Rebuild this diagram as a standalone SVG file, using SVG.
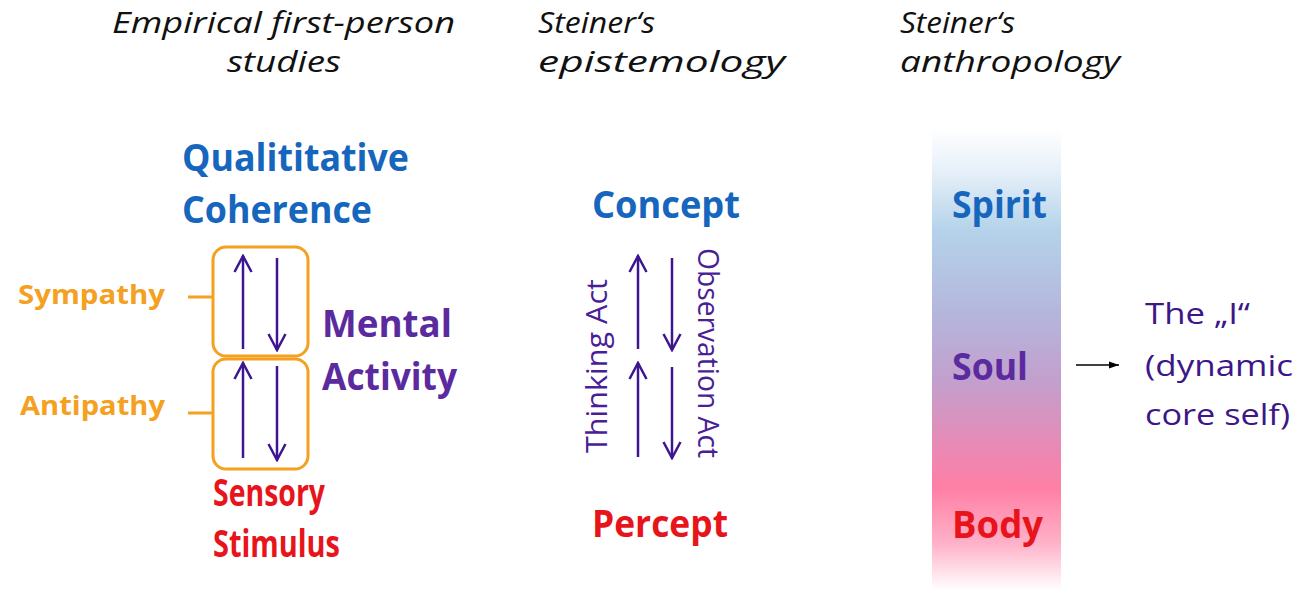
<svg xmlns="http://www.w3.org/2000/svg" width="1293" height="600" viewBox="0 0 1293 600">
<defs>
<style>
text{font-family:"Open Sans","Noto Sans","Liberation Sans",sans-serif}
.title{font-size:30px;font-style:italic;fill:#111}
.big{font-size:37px;font-weight:bold}
.blue{fill:#1666bd}
.red{fill:#e8141c}
.purple{fill:#5b2a9e}
.orange{fill:#f4a021}
.mid{font-size:27px;font-weight:bold}
.act{font-size:29px;fill:#4a1e96}
.self{font-size:30px;fill:#3d1688}
.box{fill:none;stroke:#f4a021;stroke-width:3}
.dash{stroke:#f4a021;stroke-width:3}
.arr{stroke:#3e1590;stroke-width:2.5;fill:none;marker-end:url(#head)}
</style>
<marker id="head" markerUnits="userSpaceOnUse" viewBox="0 0 20 20" refX="18" refY="10" markerWidth="20" markerHeight="20" orient="auto">
<path d="M2,1.5 L18,10 L2,18.5" fill="none" stroke="#3e1590" stroke-width="2.5"/>
</marker>
<marker id="blk" markerUnits="userSpaceOnUse" viewBox="0 0 10 10" refX="10" refY="5" markerWidth="10" markerHeight="10" orient="auto">
<path d="M0,1.5 L10,5 L0,8.5 Z" fill="#000"/>
</marker>
<linearGradient id="bar" x1="0" y1="0" x2="0" y2="1">
<stop offset="0" stop-color="#ffffff"/>
<stop offset="0.1" stop-color="#e4eff8"/>
<stop offset="0.22" stop-color="#b5d3ea"/>
<stop offset="0.4" stop-color="#b4b6dc"/>
<stop offset="0.55" stop-color="#c39fcd"/>
<stop offset="0.7" stop-color="#eb88b3"/>
<stop offset="0.78" stop-color="#ff7fa6"/>
<stop offset="0.9" stop-color="#ffb2c9"/>
<stop offset="1" stop-color="#ffffff"/>
</linearGradient>
</defs>
<rect width="1293" height="600" fill="#fff"/>

<g id="titles">
<text class="title" x="112" y="33" textLength="343" lengthAdjust="spacingAndGlyphs">Empirical first-person</text>
<text class="title" x="227" y="72" textLength="114" lengthAdjust="spacingAndGlyphs">studies</text>
<text class="title" x="538" y="33" textLength="117" lengthAdjust="spacingAndGlyphs">Steiner‘s</text>
<text class="title" x="538" y="72" textLength="247" lengthAdjust="spacingAndGlyphs">epistemology</text>
<text class="title" x="900" y="33" textLength="115" lengthAdjust="spacingAndGlyphs">Steiner‘s</text>
<text class="title" x="900" y="72" textLength="220" lengthAdjust="spacingAndGlyphs">anthropology</text>
</g>

<g id="coherence">
<text class="big blue" x="182" y="171" textLength="227" lengthAdjust="spacingAndGlyphs">Qualititative</text>
<text class="big blue" x="182" y="223" textLength="190" lengthAdjust="spacingAndGlyphs">Coherence</text>
</g>
<g id="sympathy">
<text class="mid orange" x="18" y="304" textLength="147" lengthAdjust="spacingAndGlyphs">Sympathy</text>
<line class="dash" x1="188" y1="297" x2="213" y2="297"/>
<rect class="box" x="213" y="247" width="95" height="109" rx="13"/>
</g>
<g id="antipathy">
<text class="mid orange" x="20" y="415" textLength="145" lengthAdjust="spacingAndGlyphs">Antipathy</text>
<line class="dash" x1="188" y1="413" x2="213" y2="413"/>
<rect class="box" x="213" y="359" width="95" height="110" rx="13"/>
</g>
<g id="mental">
<text class="big purple" x="322" y="337" textLength="130" lengthAdjust="spacingAndGlyphs">Mental</text>
<text class="big purple" x="322" y="390" textLength="135" lengthAdjust="spacingAndGlyphs">Activity</text>
</g>
<g id="sensory">
<text class="big red" x="213" y="506" textLength="112" lengthAdjust="spacingAndGlyphs">Sensory</text>
<text class="big red" x="213" y="557" textLength="127" lengthAdjust="spacingAndGlyphs">Stimulus</text>
</g>

<g id="concept"><text class="big blue" x="592" y="218" textLength="148" lengthAdjust="spacingAndGlyphs">Concept</text></g>
<g id="percept"><text class="big red" x="592" y="537" textLength="136" lengthAdjust="spacingAndGlyphs">Percept</text></g>
<g id="thinking"><text class="act" transform="translate(607,453) rotate(-90)" x="0" y="0" textLength="174" lengthAdjust="spacingAndGlyphs">Thinking Act</text></g>
<g id="observation"><text class="act" transform="translate(698,248) rotate(90)" x="0" y="0" textLength="210" lengthAdjust="spacingAndGlyphs">Observation Act</text></g>

<g id="bar-col">
<rect x="932" y="128" width="129" height="462" fill="url(#bar)"/>
<text class="big blue" x="952" y="218" textLength="95" lengthAdjust="spacingAndGlyphs">Spirit</text>
</g>
<g id="soul"><text class="big purple" x="952" y="380" textLength="76" lengthAdjust="spacingAndGlyphs">Soul</text></g>
<g id="body"><text class="big red" x="952" y="538" textLength="91" lengthAdjust="spacingAndGlyphs">Body</text></g>
<g id="self">
<text class="self" x="1145" y="324" textLength="105" lengthAdjust="spacingAndGlyphs">The „I“</text>
<text class="self" x="1145" y="376" textLength="148" lengthAdjust="spacingAndGlyphs">(dynamic</text>
<text class="self" x="1145" y="425" textLength="145" lengthAdjust="spacingAndGlyphs">core self)</text>
</g>

<g id="connectors">
<line class="arr" x1="243" y1="349" x2="243" y2="256"/>
<line class="arr" x1="277" y1="258" x2="277" y2="350"/>
<line class="arr" x1="243" y1="458" x2="243" y2="363"/>
<line class="arr" x1="277" y1="366" x2="277" y2="460"/>
<line class="arr" x1="638" y1="349" x2="638" y2="256"/>
<line class="arr" x1="672" y1="258" x2="672" y2="350"/>
<line class="arr" x1="638" y1="457" x2="638" y2="363"/>
<line class="arr" x1="672" y1="367" x2="672" y2="458"/>
<line x1="1076" y1="365" x2="1119" y2="365" stroke="#000" stroke-width="1.5" marker-end="url(#blk)"/>
</g>
</svg>
